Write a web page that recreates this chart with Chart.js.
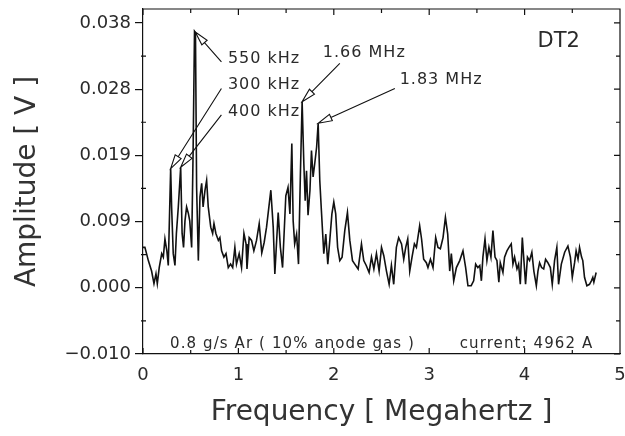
<!DOCTYPE html>
<html>
<head>
<meta charset="utf-8">
<script src="https://cdn.jsdelivr.net/npm/chart.js@4"></script>
<style>
  html, body { margin: 0; padding: 0; background: #fff; }
  #wrap { width: 625px; height: 436px; }
</style>
</head>
<body>
<div id="wrap"><canvas id="spectrumChart" width="625" height="436"></canvas></div>
<script>
// spectrum: frequency [MHz] and amplitude [V]
const freq = [
  0.00, 0.02, 0.056, 0.09, 0.115, 0.136, 0.15, 0.17, 0.196, 0.213, 0.23, 0.25, 0.265, 0.29, 0.30,
  0.317, 0.335, 0.35, 0.37, 0.395, 0.41, 0.425, 0.44, 0.457, 0.475, 0.49, 0.51, 0.525, 0.54, 0.55,
  0.562, 0.58, 0.597, 0.615, 0.63, 0.65, 0.667, 0.684, 0.71, 0.73, 0.744, 0.764, 0.79, 0.806, 0.824,
  0.848, 0.87, 0.894, 0.918, 0.94, 0.963, 0.98, 1.008, 1.033, 1.058, 1.08, 1.09, 1.113, 1.138, 1.162,
  1.19, 1.218, 1.245, 1.27, 1.295, 1.34, 1.365, 1.382, 1.417, 1.44, 1.463, 1.497, 1.52, 1.54, 1.56,
  1.574, 1.59, 1.61, 1.63, 1.65, 1.668, 1.686, 1.70, 1.714, 1.73, 1.75, 1.766, 1.783, 1.80, 1.82,
  1.836, 1.853, 1.87, 1.895, 1.916, 1.937, 1.958, 1.98, 2.00, 2.02, 2.04, 2.063, 2.087, 2.115, 2.143,
  2.168, 2.196, 2.22, 2.255, 2.29, 2.314, 2.34, 2.37, 2.395, 2.42, 2.447, 2.475, 2.50, 2.524, 2.552,
  2.58, 2.604, 2.628, 2.656, 2.68, 2.71, 2.733, 2.754, 2.775, 2.796, 2.82, 2.845, 2.866, 2.90, 2.92,
  2.942, 2.97, 2.987, 3.013, 3.04, 3.068, 3.092, 3.117, 3.145, 3.17, 3.194, 3.215, 3.232, 3.257, 3.285,
  3.32, 3.354, 3.382, 3.406, 3.44, 3.466, 3.487, 3.51, 3.53, 3.547, 3.563, 3.585, 3.605, 3.626, 3.647,
  3.668, 3.69, 3.71, 3.73, 3.745, 3.773, 3.79, 3.815, 3.836, 3.86, 3.878, 3.895, 3.92, 3.937, 3.955,
  3.976, 3.993, 4.01, 4.03, 4.052, 4.076, 4.097, 4.123, 4.14, 4.157, 4.178, 4.20, 4.22, 4.244, 4.27,
  4.29, 4.314, 4.338, 4.356, 4.385, 4.42, 4.454, 4.48, 4.50, 4.524, 4.54, 4.56, 4.576, 4.597, 4.61,
  4.628, 4.653, 4.68, 4.70, 4.715, 4.726, 4.75
];
const amp = [
  0.0058, 0.0058, 0.0039, 0.0024, 0.0006, 0.0020, 0.0006, 0.0029, 0.0049, 0.0044, 0.0070, 0.0053, 0.0032, 0.0171, 0.0116,
  0.0049, 0.0032, 0.0078, 0.0116, 0.0173, 0.0078, 0.0058, 0.0096, 0.0116, 0.0107, 0.0096, 0.0058, 0.0193, 0.0368, 0.0366,
  0.0144, 0.0039, 0.0130, 0.0150, 0.0116, 0.0140, 0.0154, 0.0116, 0.0087, 0.0078, 0.0092, 0.0078, 0.0068, 0.0072, 0.0053,
  0.0044, 0.0049, 0.0029, 0.0034, 0.0029, 0.0058, 0.0034, 0.0049, 0.0029, 0.0078, 0.0063, 0.0027, 0.0072, 0.0068, 0.0053,
  0.0068, 0.0092, 0.0050, 0.0065, 0.0087, 0.0140, 0.0087, 0.0020, 0.0108, 0.0058, 0.0029, 0.0132, 0.0144, 0.0106, 0.0207,
  0.0096, 0.0063, 0.0077, 0.0034, 0.0164, 0.0267, 0.0178, 0.0125, 0.0168, 0.0104, 0.0140, 0.0197, 0.0159, 0.0178, 0.0202,
  0.0236, 0.0154, 0.0111, 0.0049, 0.0077, 0.0034, 0.0068, 0.0106, 0.0123, 0.0106, 0.0058, 0.0039, 0.0044, 0.0082, 0.0108,
  0.0068, 0.0039, 0.0034, 0.0027, 0.0063, 0.0039, 0.0032, 0.0022, 0.0044, 0.0027, 0.0049, 0.0024, 0.0058, 0.0046, 0.0024,
  0.0005, 0.0032, 0.0005, 0.0058, 0.0072, 0.0063, 0.0041, 0.0058, 0.0070, 0.0024, 0.0044, 0.0063, 0.0058, 0.0089, 0.0070,
  0.0041, 0.0036, 0.0029, 0.0041, 0.0029, 0.0072, 0.0058, 0.0056, 0.0072, 0.0101, 0.0077, 0.0024, 0.0049, 0.0010, 0.0029,
  0.0039, 0.0053, 0.0029, 0.0003, 0.0003, 0.0010, 0.0034, 0.0029, 0.0032, 0.0010, 0.0044, 0.0070, 0.0039, 0.0058, 0.0044,
  0.0082, 0.0044, 0.0039, 0.0008, 0.0036, 0.0022, 0.0044, 0.0053, 0.0058, 0.0063, 0.0034, 0.0044, 0.0027, 0.0034, 0.0005,
  0.0072, 0.0039, 0.0005, 0.0044, 0.0039, 0.0051, 0.0024, 0.0003, 0.0024, 0.0036, 0.0029, 0.0027, 0.0041, 0.0036, 0.0029,
  0.0005, 0.0039, 0.0058, 0.0005, 0.0034, 0.0051, 0.0060, 0.0044, 0.0015, 0.0036, 0.0053, 0.0041, 0.0058, 0.0044, 0.0039,
  0.0015, 0.0003, 0.0005, 0.0010, 0.0015, 0.0008, 0.0022
];

// axis ticks
const xTickValues = [0, 1, 2, 3, 4, 5];
const yTickValues = [-0.0095, 0, 0.0095, 0.019, 0.0285, 0.038];
const yTickLabels = ["\u22120.010", "0.000", "0.009", "0.019", "0.028", "0.038"];

// peak labels with arrows
const peakLabels = ["550 kHz", "300 kHz", "400 kHz", "1.66 MHz", "1.83 MHz"];
const peakFreq = [0.548, 0.29, 0.395, 1.668, 1.836];
const peakAmp = [0.0367, 0.0171, 0.0173, 0.0267, 0.0236];
const leaderFreq = [0.822, 0.822, 0.822, 2.063, 2.64];
const leaderAmp = [0.0324, 0.0286, 0.0248, 0.0322, 0.0286];
const labelFreq = [0.89, 0.89, 0.89, 1.885, 2.69];
const labelAmp = [0.0328, 0.0291, 0.0252, 0.0337, 0.0298];

// free text inside the frame
const noteText = ["DT2", "0.8 g/s Ar ( 10% anode gas )", "current: 4962 A"];
const noteFreq = [4.136, 0.283, 3.32];
const noteAmp = [0.0354, -0.0081, -0.0081];

const FONT = "DejaVu Sans";
const INK = "#111";
const TEXT = "#2a2a2a";

const frameTicks = {
  id: "frameTicks",
  afterDraw(chart) {
    const { ctx, chartArea: a, scales: { x, y } } = chart;
    ctx.save();
    ctx.strokeStyle = INK;
    ctx.lineWidth = 1.2;
    ctx.beginPath();
    ctx.moveTo(a.left, a.top);
    ctx.lineTo(a.right, a.top);
    ctx.lineTo(a.right, a.bottom);
    // x ticks, major and half steps, pointing in
    for (let i = 0; i < xTickValues.length; i++) {
      const v = xTickValues[i];
      const px = x.getPixelForValue(v);
      ctx.moveTo(px, a.bottom); ctx.lineTo(px, a.bottom - 6);
      ctx.moveTo(px, a.top); ctx.lineTo(px, a.top + 6);
      if (i < xTickValues.length - 1) {
        const hx = x.getPixelForValue((v + xTickValues[i + 1]) / 2);
        ctx.moveTo(hx, a.bottom); ctx.lineTo(hx, a.bottom - 4);
        ctx.moveTo(hx, a.top); ctx.lineTo(hx, a.top + 4);
      }
    }
    // y ticks on the right, minor ticks on the left
    for (let i = 0; i < yTickValues.length; i++) {
      const v = yTickValues[i];
      const py = y.getPixelForValue(v);
      ctx.moveTo(a.right, py); ctx.lineTo(a.right - 6, py);
      if (i < yTickValues.length - 1) {
        const hy = y.getPixelForValue((v + yTickValues[i + 1]) / 2);
        ctx.moveTo(a.right, hy); ctx.lineTo(a.right - 4, hy);
        ctx.moveTo(a.left - 2, hy); ctx.lineTo(a.left + 3, hy);
      }
    }
    ctx.stroke();
    ctx.restore();
  }
};

const peakNotes = {
  id: "peakNotes",
  afterDatasetsDraw(chart) {
    const { ctx, scales: { x, y } } = chart;
    ctx.save();
    ctx.strokeStyle = INK;
    ctx.fillStyle = TEXT;
    ctx.lineWidth = 1.1;
    ctx.textBaseline = "middle";
    ctx.textAlign = "left";
    for (let i = 0; i < peakLabels.length; i++) {
      const tx = x.getPixelForValue(peakFreq[i]);
      const ty = y.getPixelForValue(peakAmp[i]);
      const lx = x.getPixelForValue(leaderFreq[i]);
      const ly = y.getPixelForValue(leaderAmp[i]);
      const len = Math.hypot(lx - tx, ly - ty);
      const ux = (lx - tx) / len, uy = (ly - ty) / len;
      const bx = tx + ux * 14, by = ty + uy * 14;
      ctx.beginPath();
      ctx.moveTo(tx, ty);
      ctx.lineTo(bx - uy * 3.5, by + ux * 3.5);
      ctx.lineTo(bx + uy * 3.5, by - ux * 3.5);
      ctx.closePath();
      ctx.moveTo(bx, by);
      ctx.lineTo(lx, ly);
      ctx.stroke();
      ctx.font = "16px " + FONT;
      ctx.letterSpacing = "1px";
      ctx.fillText(peakLabels[i], x.getPixelForValue(labelFreq[i]), y.getPixelForValue(labelAmp[i]));
    }
    ctx.letterSpacing = "0px";
    ctx.font = "21px " + FONT;
    ctx.fillText(noteText[0], x.getPixelForValue(noteFreq[0]), y.getPixelForValue(noteAmp[0]));
    ctx.font = "15px " + FONT;
    ctx.letterSpacing = "1.1px";
    for (let i = 1; i < noteText.length; i++) {
      ctx.fillText(noteText[i], x.getPixelForValue(noteFreq[i]), y.getPixelForValue(noteAmp[i]));
    }
    ctx.restore();
  }
};

const ctx = document.getElementById("spectrumChart").getContext("2d");

const spectrumChart = new Chart(ctx, {
  type: "line",
  data: {
    datasets: [{
      label: "DT2",
      data: freq.map((f, i) => ({ x: f, y: amp[i] })),
      borderColor: INK,
      borderWidth: 1.6,
      pointRadius: 0,
      tension: 0,
      fill: false,
    }],
  },
  options: {
    responsive: false,
    animation: false,
    layout: { padding: { top: 9, right: 5, left: 0, bottom: 0 } },
    plugins: {
      legend: { display: false },
      tooltip: { enabled: false },
    },
    scales: {
      x: {
        type: "linear",
        min: 0,
        max: 5,
        afterBuildTicks: s => { s.ticks = xTickValues.map(v => ({ value: v })); },
        afterFit: s => { s.height = 82; s.paddingLeft = 0; s.paddingRight = 0; },
        grid: { display: false, drawTicks: false },
        border: { display: true, color: INK, width: 1.2 },
        ticks: { color: TEXT, font: { family: FONT, size: 18 }, padding: 11, maxRotation: 0 },
        title: {
          display: true,
          text: "Frequency [ Megahertz ]",
          color: "#333",
          font: { family: FONT, size: 28 },
          padding: { top: 0, bottom: 6 },
        },
      },
      y: {
        type: "linear",
        min: -0.0095,
        max: 0.040,
        afterBuildTicks: s => { s.ticks = yTickValues.map(v => ({ value: v })); },
        afterFit: s => { s.width = 143; s.paddingTop = 0; s.paddingBottom = 0; },
        grid: { display: true, drawOnChartArea: false, drawTicks: true, tickLength: 8, color: INK, lineWidth: 1.2 },
        border: { display: true, color: INK, width: 1.2 },
        ticks: {
          color: TEXT,
          font: { family: FONT, size: 18 },
          padding: 4,
          callback: (v, i) => yTickLabels[i],
        },
        title: {
          display: true,
          text: "Amplitude [ V ]",
          color: "#333",
          font: { family: FONT, size: 28 },
          padding: { top: 11, bottom: 0 },
        },
      },
    },
  },
  plugins: [frameTicks, peakNotes],
});
</script>
</body>
</html>
